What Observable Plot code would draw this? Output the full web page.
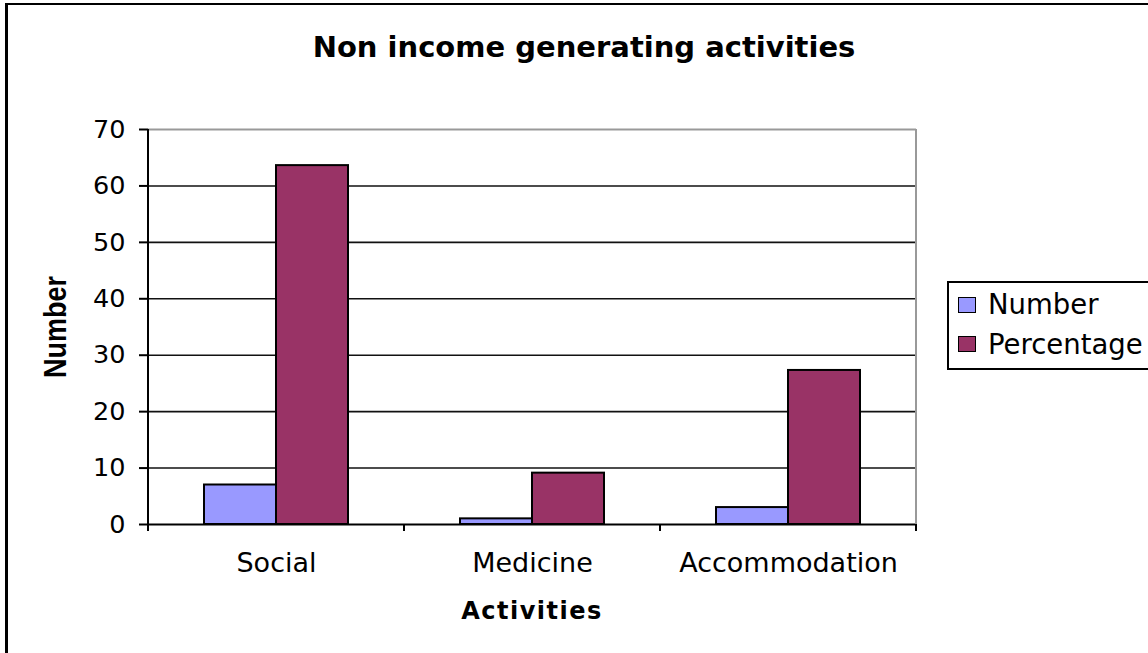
<!DOCTYPE html>
<html>
<head>
<meta charset="utf-8">
<script src="https://cdn.jsdelivr.net/npm/d3@7"></script>
<script src="https://cdn.jsdelivr.net/npm/@observablehq/plot@0.6"></script>
<style>
  body { margin: 0; background: #fff; }
  #wrap { position: relative; width: 1148px; height: 653px; overflow: hidden; background: #fff; font-family: "DejaVu Sans", sans-serif; color: #000; }
  #wrap svg { position: absolute; left: 0; top: 0; }
  #border { position: absolute; left: 5px; top: 3px; width: 1300px; height: 800px; border-left: 3px solid #000; border-top: 2.5px solid #000; pointer-events: none; }
  .ovl { position: absolute; white-space: nowrap; }
  #title { left: 584px; top: 33px; transform: translateX(-50%); font-weight: bold; font-size: 29px; line-height: 29px; }
  #xtitle { left: 532px; top: 599px; transform: translateX(-50%); font-weight: bold; font-size: 24px; line-height: 24px; letter-spacing: 1.5px; }
  #ytitle { left: 56px; top: 327px; font-family: "Liberation Sans", Arial, sans-serif; font-weight: bold; font-size: 27px; line-height: 27px; transform: translate(-50%, -50%) rotate(-90deg) scaleY(1.17); }
  #legend { position: absolute; left: 947px; top: 281px; width: 300px; height: 85px; border: 2px solid #000; border-right: none; background: #fff; }
  .sw { position: absolute; width: 16px; height: 14px; border: 1.5px solid #000; }
  .lt { position: absolute; font-size: 27.5px; line-height: 27px; white-space: nowrap; }
</style>
</head>
<body>
<div id="wrap">
  <div id="border"></div>
</div>
<script>
// ---- data ----
const categories = ["Social", "Medicine", "Accommodation"];
const series = ["Number", "Percentage"];
const numberValues = [7, 1, 3];
const percentageValues = [63.6, 9.1, 27.3];
const seriesColors = ["#9999FF", "#993366"];
const yTicks = [0, 10, 20, 30, 40, 50, 60, 70];
const titleText = "Non income generating activities";
const xTitle = "Activities";
const yTitle = "Number";

const rows = categories.flatMap((c, i) => [
  {category: c, series: series[0], value: numberValues[i]},
  {category: c, series: series[1], value: percentageValues[i]}
]);
const gridValues = yTicks.filter(v => v > 0 && v < d3.max(yTicks));
const topValue = d3.max(yTicks);

// frame decorations: left axis line, right grey border, category-boundary ticks
function decor(index, scales, values, dims) {
  const {width, height, marginLeft, marginRight, marginTop, marginBottom} = dims;
  const g = d3.create("svg:g");
  const bottom = height - marginBottom;
  const fx = scales.fx;
  const edges = new Set([marginLeft, width - marginRight]);
  if (fx) {
    const bw = typeof fx.bandwidth === "function" ? fx.bandwidth() : (scales.scales && scales.scales.fx ? scales.scales.fx.bandwidth : 0);
    for (const c of categories) { edges.add(Math.round(fx(c) * 10) / 10); edges.add(Math.round((fx(c) + bw) * 10) / 10); }
  }
  g.append("line").attr("x1", width - marginRight).attr("x2", width - marginRight)
    .attr("y1", marginTop).attr("y2", bottom).attr("stroke", "#999").attr("stroke-width", 2);
  g.append("line").attr("x1", marginLeft).attr("x2", marginLeft)
    .attr("y1", marginTop).attr("y2", bottom + 1).attr("stroke", "#000").attr("stroke-width", 2);
  for (const x of edges) {
    g.append("line").attr("x1", x).attr("x2", x).attr("y1", bottom).attr("y2", bottom + 7)
      .attr("stroke", "#000").attr("stroke-width", 2);
  }
  return g.node();
}

const chart = Plot.plot({
  width: 1148,
  height: 653,
  marginLeft: 147,
  marginRight: 232,
  marginTop: 129,
  marginBottom: 129,
  style: {fontFamily: "DejaVu Sans, sans-serif", fontSize: "25px", color: "#000", background: "transparent", overflow: "visible"},
  fx: {domain: categories, padding: 0, label: null},
  x: {domain: series, axis: null, paddingInner: 0, paddingOuter: 0.755},
  y: {domain: [0, topValue], label: null},
  color: {domain: series, range: seriesColors},
  marks: [
    Plot.ruleY(gridValues, {stroke: "#111", strokeWidth: 1.6}),
    Plot.ruleY([topValue], {stroke: "#999", strokeWidth: 2}),
    Plot.barY(rows, {fx: "category", x: "series", y: "value", fill: "series", stroke: "#000", strokeWidth: 2}),
    Plot.ruleY([0], {stroke: "#000", strokeWidth: 2}),
    Plot.axisY({ticks: yTicks, tickSize: 9, tickPadding: 14, fontSize: 25.5, label: null, strokeWidth: 2}),
    Plot.axisFx({anchor: "bottom", tickSize: 0, tickPadding: 28, fontSize: 27, label: null}),
    Plot.frame({facet: "super", render: decor})
  ]
});

const wrap = document.getElementById("wrap");
wrap.insertBefore(chart, wrap.firstChild);

function addDiv(id, text) {
  const d = document.createElement("div");
  d.id = id; d.className = "ovl"; d.textContent = text;
  wrap.appendChild(d);
  return d;
}
addDiv("title", titleText);
addDiv("xtitle", xTitle);
addDiv("ytitle", yTitle);

const legend = document.createElement("div");
legend.id = "legend";
series.forEach((s, i) => {
  const sw = document.createElement("div");
  sw.className = "sw";
  sw.style.left = "9px";
  sw.style.top = (14 + i * 39) + "px";
  sw.style.background = seriesColors[i];
  legend.appendChild(sw);
  const t = document.createElement("div");
  t.className = "lt";
  t.style.left = "39px";
  t.style.top = (8 + i * 40) + "px";
  t.textContent = s;
  legend.appendChild(t);
});
wrap.appendChild(legend);
</script>
</body>
</html>
